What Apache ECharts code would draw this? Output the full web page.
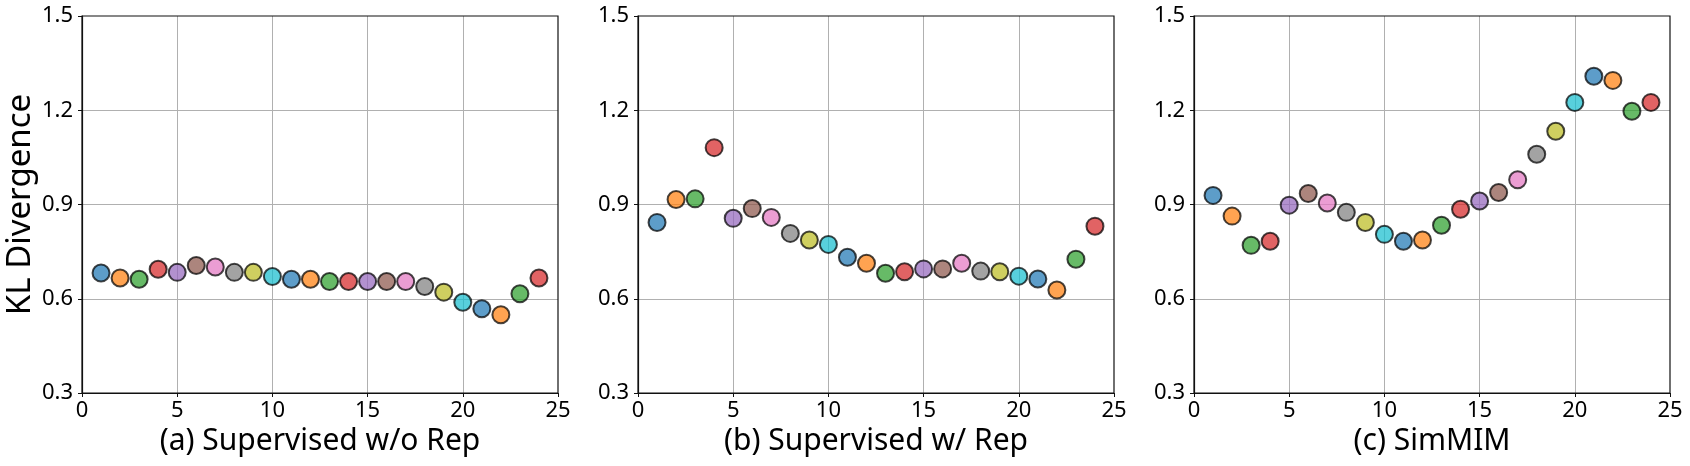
<!DOCTYPE html>
<html>
<head>
<meta charset="utf-8">
<title>KL Divergence</title>
<script src="https://cdn.jsdelivr.net/npm/echarts@6/dist/echarts.min.js"></script>
<style>
  html, body { margin: 0; padding: 0; background: #fff; }
  #main { width: 1690px; height: 466px; }
</style>
</head>
<body>
<div id="main"></div>
<script>
// layer index 1..24
var layers = [1, 2, 3, 4, 5, 6, 7, 8, 9, 10, 11, 12, 13, 14, 15, 16, 17, 18, 19, 20, 21, 22, 23, 24];

// (a) Supervised w/o Rep
var supNoRep = [0.682, 0.666, 0.662, 0.694, 0.684, 0.706, 0.701, 0.684, 0.684, 0.671, 0.662, 0.662,
                0.655, 0.655, 0.655, 0.655, 0.655, 0.639, 0.621, 0.589, 0.568, 0.549, 0.616, 0.666];
// (b) Supervised w/ Rep
var supRep = [0.843, 0.916, 0.918, 1.081, 0.856, 0.887, 0.859, 0.808, 0.787, 0.773, 0.732, 0.713,
              0.681, 0.686, 0.695, 0.695, 0.713, 0.688, 0.686, 0.672, 0.663, 0.628, 0.726, 0.831];
// (c) SimMIM
var simmim = [0.929, 0.863, 0.770, 0.783, 0.898, 0.935, 0.905, 0.875, 0.843, 0.805, 0.783, 0.787,
              0.834, 0.885, 0.911, 0.938, 0.979, 1.060, 1.133, 1.225, 1.308, 1.295, 1.197, 1.225];

var titles = ['(a) Supervised w/o Rep', '(b) Supervised w/ Rep', '(c) SimMIM'];
var panels = [supNoRep, supRep, simmim];

var xTicks = [0, 5, 10, 15, 20, 25];
var yTicks = [0.3, 0.6, 0.9, 1.2, 1.5];

// tab10
var palette = ['#1f77b4', '#ff7f0e', '#2ca02c', '#d62728', '#9467bd',
               '#8c564b', '#e377c2', '#7f7f7f', '#bcbd22', '#17becf'];

var FONT = '"Noto Sans", "DejaVu Sans", sans-serif';
var lefts = [82, 638, 1194];

var grids = [], xAxes = [], yAxes = [], series = [];

panels.forEach(function (vals, k) {
    grids.push({
        left: lefts[k], top: 16, width: 476, height: 377,
        outerBoundsMode: 'none', containLabel: false, z: 5,
        show: true, borderColor: '#111', borderWidth: 1.2, backgroundColor: 'transparent'
    });
    xAxes.push({
        gridIndex: k, type: 'value',
        min: xTicks[0], max: xTicks[xTicks.length - 1], interval: 5,
        name: titles[k], nameLocation: 'middle', nameGap: 33,
        nameTextStyle: { fontFamily: FONT, fontSize: 30, color: '#000' },
        axisLine: { show: true, onZero: false, lineStyle: { color: '#111', width: 1.2 } },
        axisTick: { show: true, length: 4, lineStyle: { color: '#111' } },
        axisLabel: { fontFamily: FONT, fontSize: 22, color: '#000', margin: 7 },
        splitLine: {
            show: true, showMinLine: false, showMaxLine: false,
            lineStyle: { color: '#b0b0b0', width: 1 }
        }
    });
    yAxes.push({
        gridIndex: k, type: 'value',
        min: yTicks[0], max: yTicks[yTicks.length - 1], interval: 0.3,
        name: k === 0 ? 'KL Divergence' : '', nameLocation: 'middle', nameGap: 45,
        nameRotate: 90,
        nameTextStyle: { fontFamily: FONT, fontSize: 33, color: '#000' },
        axisLine: { show: true, onZero: false, lineStyle: { color: '#111', width: 1.2 } },
        axisTick: { show: true, length: 4, lineStyle: { color: '#111' } },
        axisLabel: {
            fontFamily: FONT, fontSize: 22, color: '#000', margin: 9,
            showMinLabel: true, showMaxLabel: true,
            formatter: function (v) { return v.toFixed(1); }
        },
        splitLine: {
            show: true, showMinLine: false, showMaxLine: false,
            lineStyle: { color: '#b0b0b0', width: 1 }
        }
    });
    series.push({
        type: 'scatter',
        xAxisIndex: k, yAxisIndex: k,
        symbol: 'circle', symbolSize: 17,
        data: layers.map(function (x, i) {
            return {
                value: [x, vals[i]],
                itemStyle: { color: palette[i % palette.length] }
            };
        }),
        itemStyle: { opacity: 0.72, borderColor: '#000', borderWidth: 2 }
    });
});

var myChart = echarts.init(document.getElementById('main'), null, { renderer: 'canvas' });
myChart.setOption({
    animation: false,
    backgroundColor: '#fff',
    grid: grids,
    xAxis: xAxes,
    yAxis: yAxes,
    series: series
});
</script>
</body>
</html>
